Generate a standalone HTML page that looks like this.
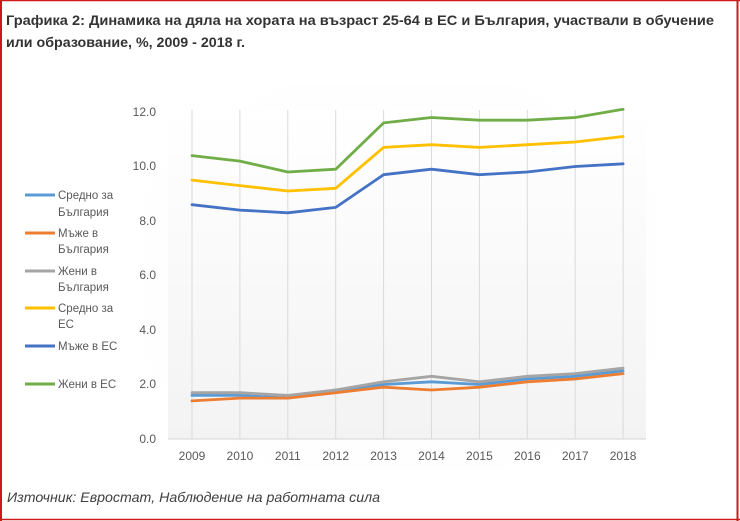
<!DOCTYPE html>
<html>
<head>
<meta charset="utf-8">
<style>
  html, body { margin: 0; padding: 0; background: #ffffff; }
  svg { display: block; }
  text { font-family: "Liberation Sans", "DejaVu Sans", sans-serif; }
</style>
</head>
<body>
<svg width="740" height="521" viewBox="0 0 740 521" xmlns="http://www.w3.org/2000/svg">
  <defs>
    <linearGradient id="pg" x1="0" y1="0" x2="0" y2="1">
      <stop offset="0" stop-color="#ffffff"/>
      <stop offset="1" stop-color="#f3f3f3"/>
    </linearGradient>
    <radialGradient id="cg" cx="0.5" cy="0.5" r="0.6">
      <stop offset="0" stop-color="#fbfbfb"/>
      <stop offset="1" stop-color="#ffffff"/>
    </radialGradient>
  </defs>

  <rect x="0" y="0" width="740" height="521" fill="#ffffff"/>

  <!-- chart area -->
  <rect x="145" y="85" width="510" height="385" fill="url(#cg)"/>
  <!-- plot area -->
  <rect x="168" y="110" width="478" height="329" fill="url(#pg)"/>

  <!-- vertical gridlines -->
  <g stroke="#dadada" stroke-width="1">
    <line x1="192" y1="110" x2="192" y2="439"/>
    <line x1="239.9" y1="110" x2="239.9" y2="439"/>
    <line x1="287.8" y1="110" x2="287.8" y2="439"/>
    <line x1="335.7" y1="110" x2="335.7" y2="439"/>
    <line x1="383.6" y1="110" x2="383.6" y2="439"/>
    <line x1="431.5" y1="110" x2="431.5" y2="439"/>
    <line x1="479.4" y1="110" x2="479.4" y2="439"/>
    <line x1="527.3" y1="110" x2="527.3" y2="439"/>
    <line x1="575.2" y1="110" x2="575.2" y2="439"/>
    <line x1="623.1" y1="110" x2="623.1" y2="439"/>
  </g>
  <line x1="168" y1="439" x2="646" y2="439" stroke="#d4d4d4" stroke-width="1"/>

  <!-- y-axis labels -->
  <g font-size="12" fill="#595959" text-anchor="end">
    <text x="156" y="116">12.0</text>
    <text x="156" y="170">10.0</text>
    <text x="156" y="225">8.0</text>
    <text x="156" y="279">6.0</text>
    <text x="156" y="334">4.0</text>
    <text x="156" y="388">2.0</text>
    <text x="156" y="443">0.0</text>
  </g>

  <!-- x-axis labels -->
  <g font-size="12" fill="#595959" text-anchor="middle">
    <text x="192" y="460">2009</text>
    <text x="239.9" y="460">2010</text>
    <text x="287.8" y="460">2011</text>
    <text x="335.7" y="460">2012</text>
    <text x="383.6" y="460">2013</text>
    <text x="431.5" y="460">2014</text>
    <text x="479.4" y="460">2015</text>
    <text x="527.3" y="460">2016</text>
    <text x="575.2" y="460">2017</text>
    <text x="623.1" y="460">2018</text>
  </g>

  <!-- series -->
  <g fill="none" stroke-width="2.8" stroke-linejoin="round" stroke-linecap="round">
    <!-- Средно за България -->
    <polyline stroke="#5B9BD5" points="192,395.4 239.9,395.4 287.8,398.1 335.7,390 383.6,384.5 431.5,381.8 479.4,384.5 527.3,379 575.2,376.3 623.1,370.9"/>
    <!-- Мъже в България -->
    <polyline stroke="#ED7D31" points="192,400.9 239.9,398.1 287.8,398.1 335.7,392.7 383.6,387.2 431.5,390 479.4,387.2 527.3,381.8 575.2,379 623.1,373.6"/>
    <!-- Жени в България -->
    <polyline stroke="#A5A5A5" points="192,392.7 239.9,392.7 287.8,395.4 335.7,390 383.6,381.8 431.5,376.3 479.4,381.8 527.3,376.3 575.2,373.6 623.1,368.2"/>
    <!-- Средно за ЕС -->
    <polyline stroke="#FFC000" points="192,180.1 239.9,185.6 287.8,191 335.7,188.3 383.6,147.4 431.5,144.7 479.4,147.4 527.3,144.7 575.2,142 623.1,136.5"/>
    <!-- Мъже в ЕС -->
    <polyline stroke="#4472C4" points="192,204.7 239.9,210.1 287.8,212.8 335.7,207.4 383.6,174.7 431.5,169.2 479.4,174.7 527.3,172 575.2,166.5 623.1,163.8"/>
    <!-- Жени в ЕС -->
    <polyline stroke="#70AD47" points="192,155.6 239.9,161.1 287.8,172 335.7,169.2 383.6,122.9 431.5,117.5 479.4,120.2 527.3,120.2 575.2,117.5 623.1,109.3"/>
  </g>

  <!-- legend -->
  <g stroke-width="3">
    <line x1="25" y1="195" x2="55" y2="195" stroke="#5B9BD5"/>
    <line x1="25" y1="233" x2="55" y2="233" stroke="#ED7D31"/>
    <line x1="25" y1="271" x2="55" y2="271" stroke="#A5A5A5"/>
    <line x1="25" y1="308" x2="55" y2="308" stroke="#FFC000"/>
    <line x1="25" y1="346" x2="55" y2="346" stroke="#4472C4"/>
    <line x1="25" y1="384" x2="55" y2="384" stroke="#70AD47"/>
  </g>
  <g font-size="11.5" fill="#595959">
    <text x="58" y="199">Средно за</text>
    <text x="58" y="216">България</text>
    <text x="58" y="237">Мъже в</text>
    <text x="58" y="253">България</text>
    <text x="58" y="275">Жени в</text>
    <text x="58" y="291">България</text>
    <text x="58" y="312">Средно за</text>
    <text x="58" y="328">ЕС</text>
    <text x="58" y="350">Мъже в ЕС</text>
    <text x="58" y="388">Жени в ЕС</text>
  </g>

  <!-- title -->
  <g font-size="14" font-weight="bold" fill="#333333">
    <text x="6" y="25" textLength="708" lengthAdjust="spacingAndGlyphs">Графика 2: Динамика на дяла на хората на възраст 25-64 в ЕС и България, участвали в обучение</text>
    <text x="6" y="47" textLength="239" lengthAdjust="spacingAndGlyphs">или образование, %, 2009 - 2018 г.</text>
  </g>

  <!-- source -->
  <text x="7" y="502" font-size="14" font-style="italic" fill="#404040" textLength="373" lengthAdjust="spacingAndGlyphs">Източник: Евростат, Наблюдение на работната сила</text>

  <!-- red frame -->
  <line x1="0" y1="0.5" x2="740" y2="0.5" stroke="#cc1a1a" stroke-width="1.5"/>
  <line x1="1" y1="0" x2="1" y2="521" stroke="#cc1a1a" stroke-width="2"/>
  <line x1="737.5" y1="0" x2="737.5" y2="521" stroke="#cc1a1a" stroke-width="2"/>
  <line x1="0" y1="519.5" x2="740" y2="519.5" stroke="#cc1a1a" stroke-width="1.5"/>
</svg>
</body>
</html>
